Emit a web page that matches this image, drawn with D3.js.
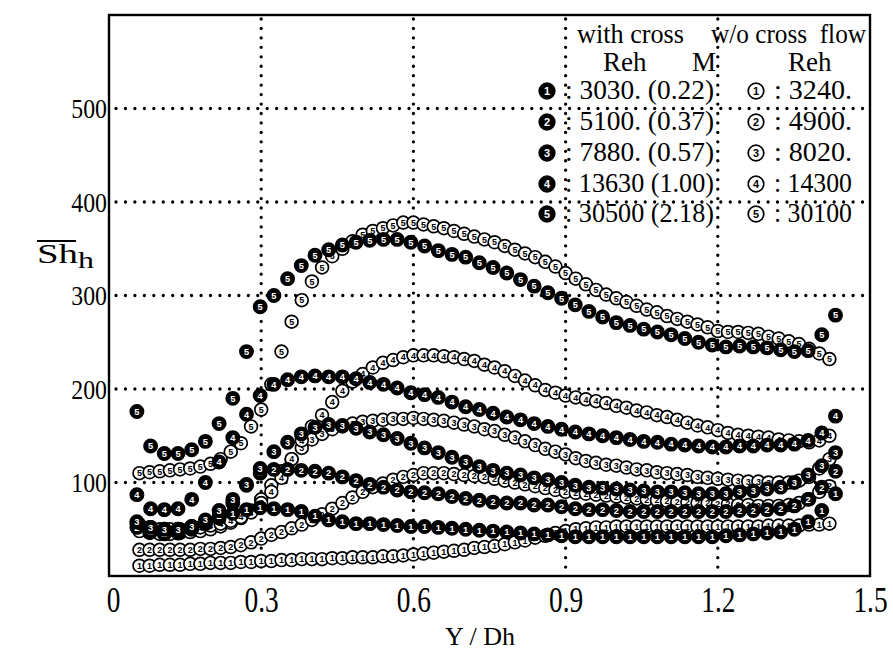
<!DOCTYPE html>
<html><head><meta charset="utf-8">
<script src="https://cdn.jsdelivr.net/npm/d3@7"></script>
<style>body{margin:0;background:#fff}svg{display:block}</style>
</head><body><svg id="c" width="893" height="667"></svg>
<script>
// ---- data ----
const xFilled=[0.055,0.082,0.109,0.136,0.163,0.190,0.217,0.244,0.271,0.298,0.325,0.352,0.379,0.406,0.433,0.460,0.487,0.514,0.541,0.568,0.595,0.622,0.649,0.676,0.703,0.730,0.757,0.784,0.811,0.838,0.865,0.892,0.919,0.946,0.973,1.000,1.027,1.054,1.081,1.108,1.135,1.162,1.189,1.216,1.243,1.270,1.297,1.324,1.351,1.378,1.405,1.432];
const xOpen=[0.06,0.08,0.10,0.12,0.14,0.16,0.18,0.20,0.22,0.24,0.26,0.28,0.30,0.32,0.34,0.36,0.38,0.40,0.42,0.44,0.46,0.48,0.50,0.52,0.54,0.56,0.58,0.60,0.62,0.64,0.66,0.68,0.70,0.72,0.74,0.76,0.78,0.80,0.82,0.84,0.86,0.88,0.90,0.92,0.94,0.96,0.98,1.00,1.02,1.04,1.06,1.08,1.10,1.12,1.14,1.16,1.18,1.20,1.22,1.24,1.26,1.28,1.30,1.32,1.34,1.36,1.38,1.40,1.42];
// with cross flow (filled markers)
const withCross1=[56,52,50,50,53,57,62,67,71,73,72,71,69,64,60,58,56,56,55,54,53,53,52,51,50,49,48,47,46,45,44,43,42,42,42,42,42,42,42,42,42,42,42,43,44,45,46,47,50,58,70,88];
const withCross2=[52,47,45,46,50,56,64,78,97,110,114,114,113,112,110,106,102,98,95,92,90,89,88,85,83,81,79,78,78,76,76,74,72,71,71,70,69,69,69,69,69,69,69,69,70,70,71,72,75,82,95,112];
const withCross3=[58,52,50,50,53,60,70,82,98,115,133,143,152,159,162,161,158,154,151,147,142,137,132,127,122,117,113,110,108,105,103,100,97,95,94,93,92,91,90,90,89,88,88,88,90,91,93,95,100,108,118,132];
const withCross4=[87,72,71,72,82,100,122,148,173,193,205,210,213,214,213,213,211,207,205,201,196,194,191,186,181,178,174,170,167,163,160,157,154,152,150,148,146,144,143,141,140,139,138,138,139,139,140,140,141,145,153,171];
const withCross5=[176,139,131,131,135,144,163,190,240,288,300,318,332,343,349,354,357,359,360,360,357,353,348,344,341,335,330,324,317,310,303,297,290,283,277,271,268,264,261,258,254,250,247,245,246,245,244,242,240,241,258,279];
// without cross flow (open markers)
const noCross1=[11,11,12,12,12,13,13,14,14,14,15,15,16,16,17,17,18,18,18,19,19,20,20,20,21,21,22,23,24,25,26,27,28,30,31,32,34,36,38,41,43,46,48,50,51,52,52,53,53,53,53,53,53,53,53,53,53,53,53,53,53,53,54,54,54,54,55,55,56];
const noCross2=[28,28,28,28,28,28,29,29,30,31,33,36,40,44,47,51,55,60,66,72,78,84,90,95,99,103,106,108,110,110,110,109,108,107,106,104,102,100,98,96,94,92,90,89,88,87,86,85,84,83,82,81,80,79,79,78,78,77,77,76,76,75,75,75,76,78,82,90,96];
const noCross3=[48,46,45,45,46,47,48,50,53,57,62,70,82,97,112,125,137,146,152,157,160,163,165,166,167,168,168,169,168,167,166,164,162,160,157,155,151,148,144,140,136,133,130,126,123,121,119,118,116,114,113,111,110,109,108,106,105,104,103,102,101,101,100,100,100,102,106,115,125];
const noCross4=[55,52,50,50,50,51,52,54,56,59,63,68,78,90,105,125,145,160,172,186,198,208,216,223,228,231,234,236,236,236,235,234,232,230,226,223,219,214,209,204,199,196,193,191,189,187,185,182,180,177,175,172,170,167,164,161,159,156,153,151,150,149,148,146,145,144,143,145,150];
const noCross5=[110,111,112,113,114,115,117,120,125,133,142,160,178,205,240,272,295,315,330,342,350,358,365,369,372,375,378,378,376,374,372,369,366,363,360,357,353,349,345,341,336,331,324,318,312,306,301,297,293,289,285,282,278,275,272,269,266,262,261,261,260,259,256,254,251,248,243,238,232];
const seriesIds=["1","2","3","4","5"];
const rehWith=["3030.","5100.","7880.","13630","30500"];
const mWith=["(0.22)","(0.37)","(0.57)","(1.00)","(2.18)"];
const rehWithout=["3240.","4900.","8020.","14300","30100"];
const xTicks=[0,0.3,0.6,0.9,1.2,1.5];
const xTickLabels=["0","0.3","0.6","0.9","1.2","1.5"];
const yTicks=[100,200,300,400,500];
const yTickLabels=["100","200","300","400","500"];

// ---- drawing ----
const svg=d3.select("#c");
const x=d3.scaleLinear().domain([0,1.5]).range([109,870]);
const y=d3.scaleLinear().domain([0,600]).range([576,15]);
const serif="'Liberation Serif','Times New Roman',serif";

svg.append("rect").attr("width",893).attr("height",667).attr("fill","#fff");

// dotted grid
const grid=svg.append("g").attr("stroke","#000").attr("stroke-width",3.3)
  .attr("stroke-linecap","round").attr("stroke-dasharray","0,9.45");
grid.selectAll("line.v").data(xTicks.filter(d=>d>0&&d<1.5)).join("line")
  .attr("x1",d=>x(d)).attr("x2",d=>x(d)).attr("y1",y(600)+4).attr("y2",y(0));
grid.selectAll("line.h").data(yTicks).join("line")
  .attr("x1",x(0)+7).attr("x2",x(1.5)).attr("y1",d=>y(d)).attr("y2",d=>y(d));

// frame
svg.append("rect").attr("x",x(0)).attr("y",y(600)).attr("width",x(1.5)-x(0)).attr("height",y(0)-y(600))
  .attr("fill","none").attr("stroke","#000").attr("stroke-width",2.4);

// x axis labels
const xAxis=svg.append("g").attr("transform",`translate(0,${y(0)})`)
  .call(d3.axisBottom(x).tickValues(xTicks).tickFormat((d,i)=>xTickLabels[i]).tickSize(0));
xAxis.select(".domain").remove();
xAxis.selectAll("text").attr("font-family",serif).attr("font-size",36).attr("fill","#000")
  .attr("dy",0).attr("y",0).attr("x",0)
  .attr("transform",d=>`translate(${d===0?4:0},36) scale(0.76,1)`);

// y axis labels
const yAxis=svg.append("g").attr("transform",`translate(${x(0)},0)`)
  .call(d3.axisLeft(y).tickValues(yTicks).tickFormat((d,i)=>yTickLabels[i]).tickSize(0));
yAxis.select(".domain").remove();
yAxis.selectAll("text").attr("font-family",serif).attr("font-size",27).attr("fill","#000")
  .attr("x",0).attr("dy","0.35em").attr("text-anchor","end")
  .attr("transform","translate(-2,0) scale(0.88,1)");

// axis titles
svg.append("text").attr("x",480).attr("y",645).attr("text-anchor","middle")
  .attr("font-family",serif).attr("font-size",26).text("Y / Dh");
const yl=svg.append("text").attr("x",37).attr("y",263).attr("font-family",serif).attr("font-size",28)
  .attr("textLength",57).attr("lengthAdjust","spacingAndGlyphs");
yl.append("tspan").text("Sh");
yl.append("tspan").attr("font-size",23).attr("dy",5).text("h");
svg.append("line").attr("x1",37).attr("x2",76).attr("y1",241).attr("y2",241).attr("stroke","#000").attr("stroke-width",2);

// markers
function drawMarker(g,cx,cy,id,filled,r){
  const m=g.append("g").attr("transform",`translate(${cx},${cy})`);
  m.append("circle").attr("r",r).attr("fill",filled?"#000":"#fff").attr("stroke","#000").attr("stroke-width",1.7);
  m.append("text").attr("text-anchor","middle").attr("dy","0.36em").attr("font-family","'Liberation Sans',Arial,sans-serif")
    .attr("font-weight","bold").attr("font-size",r*1.4).attr("fill",filled?"#fff":"#000").text(id);
}
const openSeries=[noCross1,noCross2,noCross3,noCross4,noCross5];
const filledSeries=[withCross1,withCross2,withCross3,withCross4,withCross5];
const pts=svg.append("g");
openSeries.forEach((s,k)=>{
  const g=pts.append("g");
  s.forEach((v,i)=>drawMarker(g,x(xOpen[i]),y(v),seriesIds[k],false,6.4));
});
filledSeries.forEach((s,k)=>{
  const g=pts.append("g");
  s.forEach((v,i)=>drawMarker(g,x(xFilled[i]),y(v),seriesIds[k],true,6.6));
});

// legend
const lg=svg.append("g").attr("font-family",serif).attr("font-size",27).attr("fill","#000");
lg.append("text").attr("x",577).attr("y",43).attr("textLength",107).attr("lengthAdjust","spacingAndGlyphs").text("with cross");
lg.append("text").attr("x",711).attr("y",43).attr("xml:space","preserve").attr("textLength",155).attr("lengthAdjust","spacingAndGlyphs").text("w/o cross  flow");
lg.append("text").attr("x",603).attr("y",71).text("Reh");
lg.append("text").attr("x",692).attr("y",71).text("M");
lg.append("text").attr("x",788).attr("y",71).text("Reh");
const rowY=[91,122,153,184,214];
seriesIds.forEach((id,i)=>{
  drawMarker(lg,547,rowY[i],id,true,7.8);
  lg.append("text").attr("x",565).attr("y",rowY[i]+8).attr("xml:space","preserve")
    .attr("textLength",149).attr("lengthAdjust","spacingAndGlyphs").text(": "+rehWith[i]+" "+mWith[i]);
  drawMarker(lg,756,rowY[i],id,false,7.8);
  lg.append("text").attr("x",774).attr("y",rowY[i]+8).attr("xml:space","preserve")
    .attr("textLength",78).attr("lengthAdjust","spacingAndGlyphs").text(": "+rehWithout[i]);
});
</script>
</body></html>
